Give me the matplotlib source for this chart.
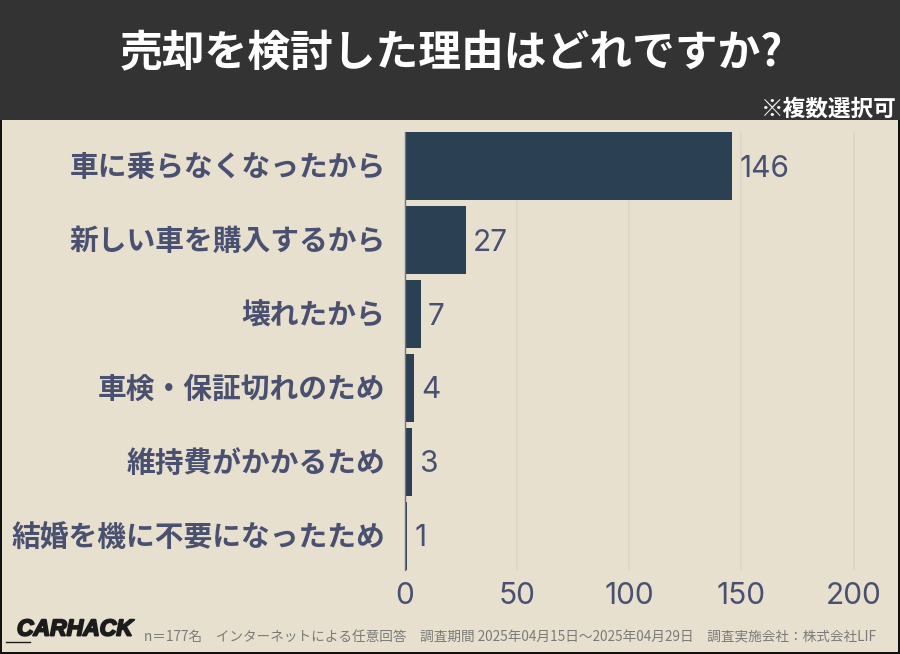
import matplotlib
matplotlib.use("Agg")
import matplotlib.pyplot as plt
import matplotlib.patheffects as pe
from matplotlib.patches import Rectangle
from matplotlib.transforms import ScaledTranslation

categories = ["車に乗らなくなったから", "新しい車を購入するから", "壊れたから",
              "車検・保証切れのため", "維持費がかかるため", "結婚を機に不要になったため"]
values = [146, 27, 7, 4, 3, 1]
x_ticks = [0, 50, 100, 150, 200]
title = "売却を検討した理由はどれですか?"
note = "※複数選択可"
footer = "n＝177名　インターネットによる任意回答　調査期間 2025年04月15日〜2025年04月29日　調査実施会社：株式会社LIF"
logo = "CARHACK"

BG = "#e8e0cf"
HEADER = "#333333"
BAR = "#2c4054"
TXT = "#4a5170"
CJK = ["Noto Sans CJK JP", "DejaVu Sans"]
NUM = ["Inter", "DejaVu Sans"]
W, H = 900, 654

plt.rcParams["font.family"] = CJK
fig = plt.figure(figsize=(W / 100, H / 100), dpi=100, facecolor=BG)

def fx(px): return px / W
def fy(py): return 1 - py / H

# frame and header
fig.add_artist(Rectangle((0, fy(120)), 1, 120 / H, transform=fig.transFigure, fc=HEADER, ec="none", zorder=0))
fig.add_artist(Rectangle((0, 0), fx(2), 1 - 120 / H, transform=fig.transFigure, fc="#111111", ec="none", zorder=0))
fig.add_artist(Rectangle((fx(898), 0), fx(2), 1 - 120 / H, transform=fig.transFigure, fc="#111111", ec="none", zorder=0))
fig.add_artist(Rectangle((0, 0), 1, 2 / H, transform=fig.transFigure, fc="#111111", ec="none", zorder=0))

ax = fig.add_axes([fx(405), fy(570), fx(853.5 - 405) + fx(24), (570 - 132) / H])
ax.set_facecolor("none")
ax.set_xlim(0, (853.5 + 24 - 405) / 2.2425)
ax.set_ylim(5.46, -0.46)
ypos = list(range(len(categories)))
ax.barh(ypos, values, height=68 / 74, color=BAR, zorder=3)
ax.set_xticks(x_ticks)
ax.set_yticks(ypos)
ax.set_yticklabels(categories, fontsize=20.7, fontweight="bold", color=TXT, family=CJK)
for lab in ax.get_xticklabels():
    lab.set_family(NUM)
    lab.set_fontsize(21.5)
    lab.set_color(TXT)
ax.tick_params(axis="y", length=0, pad=14)
ax.tick_params(axis="x", length=0, pad=9)
shift = ScaledTranslation(0, 2 / 100, fig.dpi_scale_trans)
for lab in ax.get_yticklabels():
    lab.set_transform(lab.get_transform() + shift)
ax.grid(axis="x", color="#dbd4c4", lw=1.1, zorder=1)
ax.set_axisbelow(True)
for s in ["top", "right", "bottom"]:
    ax.spines[s].set_visible(False)
ax.spines["left"].set_color("#6f7280")
ax.spines["left"].set_linewidth(1)
ax.spines["left"].set_zorder(4)

for y, v in zip(ypos, values):
    ax.annotate(str(v), (v, y), xytext=(5, -1.8), textcoords="offset points", va="center", ha="left",
                fontsize=21.5, color=TXT, family=NUM)

fig.text(fx(451), fy(53), title, color="white", fontsize=30.8, fontweight="bold", ha="center", va="center")
fig.text(fx(896.5), fy(109), note, color="white", fontsize=16.3, fontweight="bold", ha="right", va="center")
fig.text(fx(144), fy(637), footer, color="#7a7a78", fontsize=9.83, ha="left", va="center")
fig.text(fx(17), fy(629), logo, color="#1c1c1c", fontsize=16.5, fontweight="bold", style="italic",
         family=["Liberation Sans Narrow", "Liberation Sans"], ha="left", va="center",
         path_effects=[pe.withStroke(linewidth=1.4, foreground="#1c1c1c")])
fig.add_artist(plt.Line2D([fx(6), fx(30)], [fy(642), fy(642)], color="#1c1c1c", lw=1))

fig.savefig("out.png", dpi=100, facecolor=BG)
